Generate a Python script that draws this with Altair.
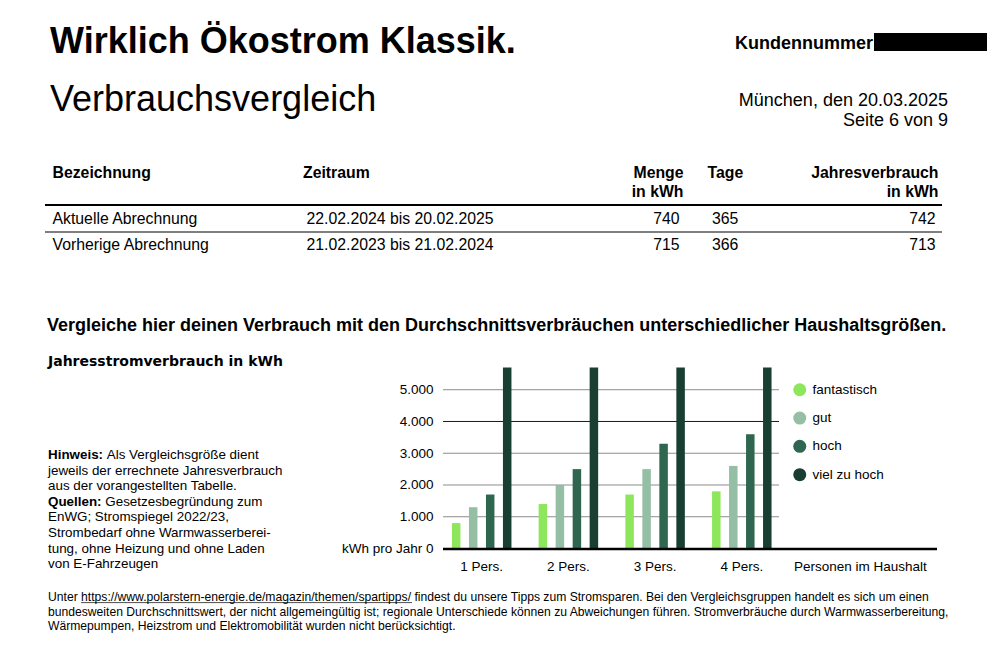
import altair as alt
import pandas as pd

# ---------------- data ----------------
persons = ["1 Pers.", "2 Pers.", "3 Pers.", "4 Pers."]
levels = ["fantastisch", "gut", "hoch", "viel zu hoch"]
fantastisch = [800, 1400, 1700, 1800]
gut = [1300, 2000, 2500, 2600]
hoch = [1700, 2500, 3300, 3600]
viel_zu_hoch = [5700, 5700, 5700, 5700]
colors = ["#8ee65c", "#95bfa5", "#2f6650", "#183f31"]
y_ticks = [0, 1000, 2000, 3000, 4000, 5000]
grid_values = [1000, 2000, 3000, 4000, 5000]

title = "Wirklich Ökostrom Klassik."
subtitle = "Verbrauchsvergleich"
kunden = "Kundennummer"
ort_datum = "München, den 20.03.2025"
seite = "Seite 6 von 9"

tbl_head = ["Bezeichnung", "Zeitraum", "Menge", "in kWh", "Tage", "Jahresverbrauch", "in kWh"]
tbl_names = ["Aktuelle Abrechnung", "Vorherige Abrechnung"]
tbl_periods = ["22.02.2024 bis 20.02.2025", "21.02.2023 bis 21.02.2024"]
tbl_menge = ["740", "715"]
tbl_tage = ["365", "366"]
tbl_jahr = ["742", "713"]

heading = "Vergleiche hier deinen Verbrauch mit den Durchschnittsverbräuchen unterschiedlicher Haushaltsgrößen."
chart_label = "Jahresstromverbrauch in kWh"
x_extra_label = "Personen im Haushalt"

note_bold = ["Hinweis:", "Quellen:"]
note_lines = [
    "Als Vergleichsgröße dient",
    "jeweils der errechnete Jahresverbrauch",
    "aus der vorangestellten Tabelle.",
    "Gesetzesbegründung zum",
    "EnWG; Stromspiegel 2022/23,",
    "Strombedarf ohne Warmwasserberei-",
    "tung, ohne Heizung und ohne Laden",
    "von E-Fahrzeugen",
]
footer = [
    "Unter https://www.polarstern-energie.de/magazin/themen/spartipps/ findest du unsere Tipps zum Stromsparen. Bei den Vergleichsgruppen handelt es sich um einen",
    "bundesweiten Durchschnittswert, der nicht allgemeingültig ist; regionale Unterschiede können zu Abweichungen führen. Stromverbräuche durch Warmwasserbereitung,",
    "Wärmepumpen, Heizstrom und Elektromobilität wurden nicht berücksichtigt.",
]

rows = []
for i, p in enumerate(persons):
    for lv, vals in zip(levels, [fantastisch, gut, hoch, viel_zu_hoch]):
        rows.append({"person": p, "level": lv, "kwh": vals[i]})
df = pd.DataFrame(rows)

# ---------------- layout ----------------
FONT = "Liberation Sans"
W, H = 494, 181
OX, OY = 443, 367.5  # page position of plot origin


def T(text, px, py, size, bold=False, align="left", font=FONT, baseline="alphabetic"):
    return alt.Chart(alt.Data(values=[{"t": text}])).mark_text(
        align=align, baseline=baseline, fontSize=size,
        fontWeight="bold" if bold else "normal", font=font, color="#000"
    ).encode(x=alt.value(px - OX), y=alt.value(py - OY), text="t:N")


def R(x1, x2, y, w=1.0, color="#000"):
    return alt.Chart(alt.Data(values=[{}])).mark_rule(strokeWidth=w, color=color).encode(
        x=alt.value(x1 - OX), x2=alt.value(x2 - OX), y=alt.value(y - OY))


y_enc = alt.Y(
    "kwh:Q",
    scale=alt.Scale(domain=[0, 5700], nice=False, zero=True),
    axis=alt.Axis(
        title=None, values=y_ticks, grid=False, ticks=False, domain=False,
        labelPadding=10, labelFontSize=13.5, labelFont=FONT, labelColor="#000",
        labelExpr="datum.value === 0 ? 'kWh pro Jahr 0' : replace(format(datum.value, ','), ',', '.')",
    ),
)

grid = alt.Chart(pd.DataFrame({"kwh": grid_values})).mark_rule(strokeWidth=1).encode(
    y=y_enc, x=alt.value(0), x2=alt.value(336),
    color=alt.condition("datum.kwh === 4000", alt.value("#1a1a1a"), alt.value("#8c8c8c")),
)

bars = alt.Chart(df).mark_bar().encode(
    x=alt.X(
        "person:N",
        scale=alt.Scale(domain=persons, range=[-4.65, 342.15], paddingInner=0, paddingOuter=0),
        axis=alt.Axis(title=None, labelAngle=0, ticks=False, domain=False, labelPadding=11,
                      labelFontSize=13.5, labelFont=FONT, labelColor="#000"),
    ),
    xOffset=alt.XOffset("level:N", scale=alt.Scale(domain=levels, paddingInner=0.5, paddingOuter=0.8)),
    y=y_enc,
    color=alt.Color(
        "level:N",
        scale=alt.Scale(domain=levels, range=colors),
        legend=alt.Legend(
            title=None, orient="none", legendX=350, legendY=15.5, symbolType="circle",
            symbolSize=169, symbolStrokeWidth=0, symbolOpacity=1, labelFontSize=13.5,
            labelFont=FONT, labelColor="#000", rowPadding=13.3, labelOffset=6, padding=0,
        ),
    ),
)

baseline_rule = alt.Chart(alt.Data(values=[{}])).mark_rule(strokeWidth=2.5, color="#000").encode(
    x=alt.value(0), x2=alt.value(W), y=alt.value(H + 0.5))

texts = [
    T(title, 50, 53, 36, bold=True),
    T(kunden, 735, 49, 18, bold=True),
    T(subtitle, 50, 111, 36),
    T(ort_datum, 948, 106, 18, align="right"),
    T(seite, 948, 126, 18, align="right"),
    # table header
    T(tbl_head[0], 52.5, 177.5, 15.8, bold=True),
    T(tbl_head[1], 303, 177.5, 15.8, bold=True),
    T(tbl_head[2], 683.5, 177.5, 15.8, bold=True, align="right"),
    T(tbl_head[3], 683.5, 196.5, 15.8, bold=True, align="right"),
    T(tbl_head[4], 707.5, 177.5, 15.8, bold=True),
    T(tbl_head[5], 938.5, 177.5, 15.8, bold=True, align="right"),
    T(tbl_head[6], 938.5, 196.5, 15.8, bold=True, align="right"),
]
for i, yb in enumerate([224, 250]):
    texts += [
        T(tbl_names[i], 52.5, yb, 15.8),
        T(tbl_periods[i], 306.5, yb, 15.8),
        T(tbl_menge[i], 679.5, yb, 15.8, align="right"),
        T(tbl_tage[i], 712, yb, 15.8),
        T(tbl_jahr[i], 935.5, yb, 15.8, align="right"),
    ]

texts += [
    T(heading, 47, 331, 18, bold=True),
    T(chart_label, 48, 366, 14, bold=True, font="DejaVu Sans"),
    T(x_extra_label, 794, H + 11 + OY, 13.5, baseline="top"),
]

note_y0, note_dy, note_fs = 459, 15.6, 13.4
texts.append(T(note_bold[0], 48, note_y0, note_fs, bold=True))
texts.append(T(note_bold[1], 48, note_y0 + 3 * note_dy, note_fs, bold=True))
for i, line in enumerate(note_lines):
    xs = 48
    if i == 0:
        xs = 106.8
    elif i == 3:
        xs = 105.3
    texts.append(T(line, xs, note_y0 + i * note_dy, note_fs))

foot_y0, foot_dy, foot_fs = 601, 14.5, 12.15
for i, line in enumerate(footer):
    texts.append(T(line, 48, foot_y0 + i * foot_dy, foot_fs))

url_x0 = 48 + 2.723 * foot_fs
url_x1 = url_x0 + 27.233 * foot_fs

deco = [
    R(45, 942, 205, 1.8),
    R(45, 942, 232, 1.1),
    R(url_x0, url_x1, foot_y0 + 1.6, 0.7),
    alt.Chart(alt.Data(values=[{}])).mark_rect(color="#000").encode(
        x=alt.value(874 - OX), x2=alt.value(987 - OX), y=alt.value(33 - OY), y2=alt.value(51 - OY)),
]

chart = alt.layer(grid, bars, baseline_rule, *deco, *texts).properties(
    width=W, height=H,
    autosize=alt.AutoSizeParams(type="none"),
    padding={"left": OX - 8, "top": OY - 8, "right": 992 - (OX - 8) - W - 2, "bottom": 650 - (OY - 8) - H},
    background="white",
).configure_view(stroke=None)

chart.save("out.html", embed_options={"renderer": "svg", "actions": False})
